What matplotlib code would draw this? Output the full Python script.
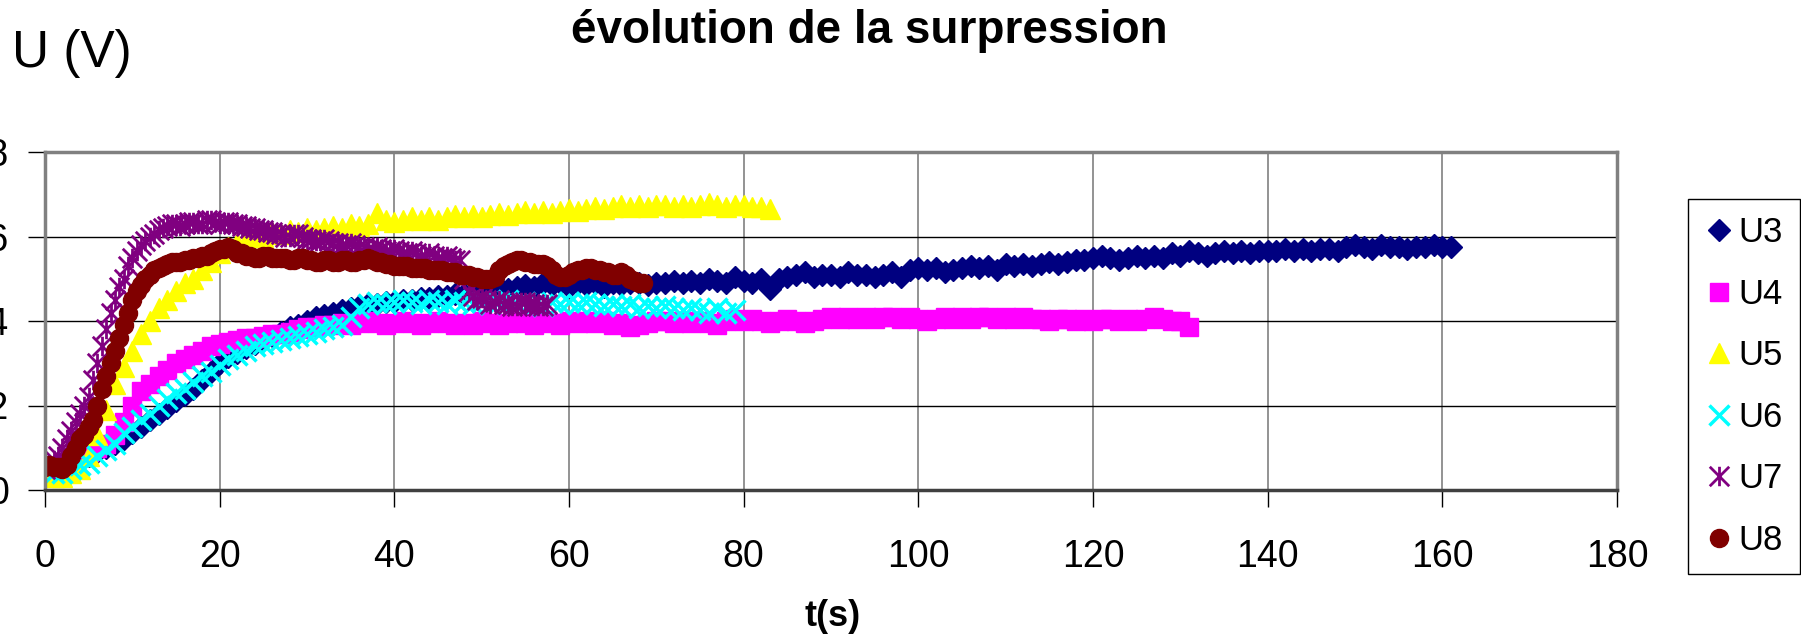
import matplotlib
matplotlib.use("Agg")
import matplotlib.pyplot as plt
from matplotlib.path import Path
from matplotlib.ticker import FuncFormatter
import numpy as np

plt.rcParams['font.family'] = ['Liberation Sans', 'DejaVu Sans']

# values, one sample per second (U7, U8: every half second)
u3 = [0.05, 0.05, 0.06, 0.06,
      0.07, 0.08, 0.09, 0.10, 0.11, 0.12, 0.135,
      0.15, 0.165, 0.18, 0.195, 0.21, 0.225, 0.24, 0.26, 0.28, 0.30,
      0.315, 0.325, 0.335, 0.345, 0.355, 0.365, 0.375, 0.385, 0.39, 0.40,
      0.41, 0.415, 0.42, 0.425, 0.43, 0.435, 0.44, 0.44, 0.445, 0.445,
      0.45, 0.45, 0.455, 0.455, 0.46, 0.46, 0.465, 0.465, 0.47, 0.47,
      0.475, 0.48, 0.475, 0.48, 0.485, 0.48, 0.49, 0.485, 0.49, 0.48,
      0.49, 0.485, 0.49, 0.48, 0.49, 0.485, 0.49, 0.49, 0.485, 0.49,
      0.49, 0.495, 0.49, 0.495, 0.49, 0.50, 0.495, 0.49, 0.505, 0.495,
      0.49, 0.50, 0.475, 0.50, 0.505, 0.51, 0.515, 0.505, 0.51, 0.51,
      0.505, 0.515, 0.51, 0.51, 0.505, 0.51, 0.515, 0.505, 0.52, 0.525,
      0.52, 0.525, 0.515, 0.52, 0.525, 0.53, 0.525, 0.53, 0.52, 0.535,
      0.53, 0.535, 0.53, 0.535, 0.54, 0.535, 0.54, 0.545, 0.545, 0.55,
      0.555, 0.55, 0.545, 0.55, 0.555, 0.55, 0.555, 0.55, 0.56, 0.555,
      0.565, 0.56, 0.555, 0.56, 0.565, 0.56, 0.565, 0.56, 0.565, 0.565,
      0.565, 0.57, 0.565, 0.57, 0.565, 0.57, 0.57, 0.565, 0.575, 0.58,
      0.575, 0.57, 0.58, 0.575, 0.575, 0.57, 0.575, 0.575, 0.58, 0.575, 0.575]

u4 = [0.05, 0.05, 0.06, 0.07, 0.08,
      0.09, 0.10, 0.11, 0.13, 0.16, 0.20,
      0.235, 0.25, 0.27, 0.285, 0.30, 0.31, 0.32, 0.33, 0.34, 0.345,
      0.35, 0.355, 0.36, 0.36, 0.365, 0.37, 0.37, 0.375, 0.38, 0.385,
      0.385, 0.39, 0.39, 0.395, 0.39, 0.395, 0.40, 0.395, 0.39, 0.395,
      0.40, 0.395, 0.39, 0.395, 0.40, 0.395, 0.39, 0.395, 0.39, 0.40,
      0.395, 0.39, 0.395, 0.40, 0.395, 0.39, 0.40, 0.395, 0.39, 0.40,
      0.395, 0.40, 0.395, 0.40, 0.39, 0.395, 0.385, 0.39, 0.395, 0.40,
      0.40, 0.395, 0.40, 0.395, 0.40, 0.395, 0.39, 0.40, 0.405, 0.40,
      0.405, 0.40, 0.395, 0.40, 0.405, 0.40, 0.395, 0.40, 0.405, 0.41,
      0.405, 0.41, 0.405, 0.41, 0.405, 0.41, 0.41, 0.405, 0.41, 0.405,
      0.40, 0.405, 0.41, 0.405, 0.41, 0.405, 0.41, 0.41, 0.405, 0.41,
      0.405, 0.41, 0.405, 0.405, 0.40, 0.405, 0.405, 0.40, 0.405, 0.40,
      0.405, 0.405, 0.40, 0.405, 0.40, 0.405, 0.41, 0.405, 0.40, 0.40, 0.385]

u5 = [0.04, 0.03, 0.03, 0.04, 0.05,
      0.08, 0.13, 0.19, 0.25, 0.29, 0.33, 0.37, 0.40, 0.43, 0.45, 0.47,
      0.49, 0.50, 0.52, 0.54, 0.56, 0.575, 0.585, 0.59, 0.60, 0.60,
      0.61, 0.605, 0.615, 0.61, 0.62, 0.615, 0.62, 0.625, 0.62, 0.63, 0.625, 0.63,
      0.655,
      0.64, 0.635, 0.64, 0.645, 0.64, 0.645, 0.64, 0.645, 0.65, 0.645, 0.65, 0.645,
      0.65, 0.655, 0.65, 0.655, 0.66, 0.655, 0.66, 0.655, 0.66, 0.665,
      0.66, 0.665, 0.67, 0.665, 0.67, 0.675, 0.67, 0.675, 0.67, 0.675,
      0.675, 0.67, 0.675, 0.67, 0.675, 0.68, 0.675, 0.67, 0.675, 0.675, 0.67, 0.67, 0.665]

u6 = [0.05, 0.04, 0.04, 0.05, 0.06, 0.065,
      0.08, 0.095, 0.11, 0.135, 0.15,
      0.165, 0.18, 0.20, 0.215, 0.23, 0.24, 0.255, 0.27, 0.28, 0.295,
      0.31, 0.32, 0.33, 0.34, 0.345, 0.35, 0.355, 0.36, 0.365, 0.37,
      0.375, 0.38, 0.385, 0.39, 0.41, 0.43, 0.44, 0.445, 0.44, 0.445,
      0.45, 0.445, 0.44, 0.45, 0.445, 0.44, 0.45, 0.445, 0.44, 0.445,
      0.44, 0.445, 0.45, 0.44, 0.445, 0.44, 0.435, 0.445, 0.44, 0.445,
      0.44, 0.445, 0.44, 0.435, 0.44, 0.435, 0.44, 0.43, 0.435, 0.43,
      0.435, 0.43, 0.425, 0.43, 0.425, 0.42, 0.43, 0.42, 0.425]

u7 = [0.05, 0.06, 0.07, 0.08, 0.10, 0.12, 0.14, 0.16, 0.18, 0.20,
      0.22, 0.26, 0.30, 0.34, 0.38, 0.42, 0.45, 0.48, 0.50, 0.53,
      0.55, 0.565, 0.58, 0.59, 0.60, 0.605, 0.615, 0.62, 0.625, 0.63,
      0.63, 0.625, 0.63, 0.635, 0.635, 0.63, 0.63, 0.64, 0.64, 0.635,
      0.63, 0.635, 0.635, 0.63, 0.63, 0.625, 0.625, 0.62, 0.62, 0.615,
      0.615, 0.61, 0.61, 0.605, 0.605, 0.60, 0.60, 0.605, 0.605, 0.60,
      0.595, 0.595, 0.59, 0.59, 0.595, 0.59, 0.585, 0.585, 0.58, 0.58,
      0.585, 0.58, 0.575, 0.575, 0.57, 0.57, 0.575, 0.57, 0.565, 0.565,
      0.57, 0.565, 0.56, 0.56, 0.565, 0.56, 0.555, 0.555, 0.56, 0.555,
      0.55, 0.55, 0.555, 0.55, 0.545, 0.545, 0.50, 0.47, 0.46, 0.45,
      0.455, 0.45, 0.44, 0.445, 0.45, 0.44, 0.44, 0.435, 0.435, 0.445,
      0.445, 0.44, 0.44, 0.435, 0.435, 0.44]

u8 = [0.055, 0.06, 0.055, 0.055, 0.05, 0.06, 0.08, 0.10, 0.12, 0.13,
      0.15, 0.165, 0.20, 0.24, 0.27, 0.30, 0.33, 0.36, 0.39, 0.42,
      0.45, 0.47, 0.485, 0.50, 0.51, 0.52, 0.525, 0.53, 0.535, 0.54,
      0.54, 0.54, 0.545, 0.545, 0.55, 0.55, 0.555, 0.555, 0.56, 0.565,
      0.57, 0.57, 0.575, 0.57, 0.56, 0.56, 0.555, 0.555, 0.55, 0.55,
      0.555, 0.555, 0.55, 0.55, 0.55, 0.55, 0.545, 0.545, 0.55, 0.55,
      0.545, 0.545, 0.54, 0.54, 0.545, 0.545, 0.54, 0.54, 0.545, 0.545,
      0.54, 0.54, 0.545, 0.545, 0.55, 0.545, 0.54, 0.54, 0.535, 0.535,
      0.53, 0.53, 0.53, 0.53, 0.525, 0.525, 0.525, 0.525, 0.52, 0.52,
      0.52, 0.52, 0.515, 0.515, 0.515, 0.51, 0.51, 0.51, 0.505, 0.505,
      0.50, 0.50, 0.50, 0.505, 0.52, 0.53, 0.535, 0.54, 0.545, 0.545,
      0.54, 0.54, 0.535, 0.535, 0.535, 0.53, 0.52, 0.51, 0.505, 0.505,
      0.51, 0.515, 0.52, 0.52, 0.525, 0.525, 0.52, 0.52, 0.515, 0.515,
      0.51, 0.51, 0.515, 0.51, 0.50, 0.495, 0.49, 0.49]

series = [u3, u4, u5, u6, u7, u8]
steps = [1, 1, 1, 1, 0.5, 0.5]  # sampling interval in s
labels = ['U3', 'U4', 'U5', 'U6', 'U7', 'U8']
colors = ['#000080', '#FF00FF', '#FFFF00', '#00FFFF', '#800080', '#800000']

x_ticks = [0, 20, 40, 60, 80, 100, 120, 140, 160, 180]
y_ticks = [0, 0.2, 0.4, 0.6, 0.8]

# excel style asterisk: x plus a vertical bar
asterisk = Path([(0, -1), (0, 1), (-1, -1), (1, 1), (-1, 1), (1, -1)],
                [Path.MOVETO, Path.LINETO, Path.MOVETO, Path.LINETO, Path.MOVETO, Path.LINETO])

styles = [dict(marker='D', ms=11.5),
          dict(marker='s', ms=13),
          dict(marker='^', ms=14.5),
          dict(marker='x', ms=14, mew=2.5),
          dict(marker=asterisk, ms=14, mew=2),
          dict(marker='o', ms=13)]

W, H = 1801, 636
fig = plt.figure(figsize=(W / 100, H / 100), dpi=100)
ax = fig.add_axes([45 / W, 1 - 490 / H, 1572 / W, 338 / H])

for u, dt, lab, col, st in zip(series, steps, labels, colors, styles):
    t = np.arange(len(u)) * dt
    ax.plot(t, u, linestyle='none', color=col, mfc=col, mec=col, label=lab, **st)

ax.set_xlim(0, 180)
ax.set_ylim(0, 0.8)
ax.set_xticks(x_ticks)
ax.set_yticks(y_ticks)
ax.yaxis.set_major_formatter(FuncFormatter(lambda v, p: '0' if v == 0 else f'{v:.1f}'.replace('.', ',')))
ax.tick_params(axis='both', length=12, width=1, color='black', labelsize=27)
ax.tick_params(axis='y', pad=14)
ax.tick_params(axis='x', pad=23)

ax.grid(axis='y', color='black', lw=1)
ax.grid(axis='x', color='#808080', lw=1.2)
ax.set_axisbelow(True)
for s in ax.spines.values():
    s.set_color('#808080')
    s.set_linewidth(2.5)
ax.spines['bottom'].set_color('#404040')

leg = fig.legend(loc='upper left', bbox_to_anchor=(1688 / W, 1 - 199 / H), fontsize=25,
                 frameon=True, fancybox=False, edgecolor='black', framealpha=1,
                 handlelength=0.8, handletextpad=0.15, labelspacing=0.82, borderpad=0.5,
                 borderaxespad=0)
leg.get_frame().set_linewidth(1)

fig.text(869 / W, 1 - 31 / H, 'évolution de la surpression', ha='center', va='center',
         fontsize=33, fontweight='bold')
fig.text(12 / W, 1 - 54 / H, 'U (V)', ha='left', va='center', fontsize=37)
fig.text(833 / W, 1 - 617 / H, 't(s)', ha='center', va='center', fontsize=26, fontweight='bold')

fig.savefig('out.png', dpi=100)
